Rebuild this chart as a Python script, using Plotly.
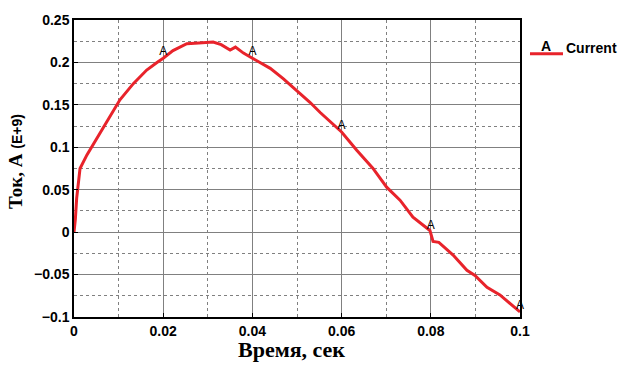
import plotly.graph_objects as go

time = [0, 0.0003, 0.0006, 0.001, 0.00135, 0.0029, 0.0058, 0.0081, 0.0103, 0.0133, 0.0163,
        0.0186, 0.02, 0.0222, 0.0253, 0.028, 0.0312, 0.033, 0.035, 0.0362, 0.038, 0.04, 0.044,
        0.0469, 0.0507, 0.0529, 0.0552, 0.06, 0.0634, 0.067, 0.0701, 0.0731, 0.076, 0.0798,
        0.0805, 0.0818, 0.085, 0.0881, 0.0899, 0.0926, 0.0955, 0.1]
current = [0, 0.015, 0.04, 0.062, 0.075, 0.091, 0.117, 0.136, 0.156, 0.175, 0.191,
           0.2, 0.205, 0.214, 0.222, 0.223, 0.224, 0.221, 0.2145, 0.218, 0.211, 0.205, 0.193,
           0.181, 0.164, 0.153, 0.141, 0.118, 0.0966, 0.0754, 0.053, 0.0377, 0.0177, 0.002,
           -0.011, -0.012, -0.027, -0.045, -0.051, -0.065, -0.074, -0.094]
mark_t = [0.02, 0.04, 0.06, 0.08, 0.1]
mark_y = [0.205, 0.205, 0.118, 0.0, -0.094]

red = "#e8232b"
fig = go.Figure()
fig.add_trace(go.Scatter(x=time, y=current, mode="lines", name="Current",
                         line=dict(color=red, width=3), showlegend=False))
fig.add_trace(go.Scatter(x=mark_t, y=mark_y, mode="text", text=["A"] * len(mark_t),
                         textposition="top center", showlegend=False, cliponaxis=False,
                         textfont=dict(family="Liberation Sans", size=12, color="black")))

axis_common = dict(showline=True, linecolor="black", linewidth=1.5, mirror=True,
                   showgrid=True, gridcolor="#808080", gridwidth=1, zeroline=False,
                   ticks="inside", ticklen=4, tickcolor="black", automargin=False,
                   tickfont=dict(family="Liberation Sans", size=14, color="black", weight="bold"))

fig.update_xaxes(range=[0, 0.1], dtick=0.02, tickformat="~g",
                 minor=dict(dtick=0.01, showgrid=True, gridcolor="#808080", griddash="dot", gridwidth=1),
                 **axis_common)
fig.update_yaxes(range=[-0.1, 0.25], dtick=0.05, tickformat="~g",
                 minor=dict(dtick=0.025, showgrid=True, gridcolor="#808080", griddash="dot", gridwidth=1),
                 **axis_common)

# axis titles
fig.add_annotation(x=0.487, y=-0.111, xref="paper", yref="paper", text="Время, сек",
                   showarrow=False, yanchor="middle",
                   font=dict(family="Liberation Serif", size=22, color="black", weight="bold"))
fig.add_annotation(x=-0.130, y=0.522, xref="paper", yref="paper", textangle=-90,
                   text="Ток, А <span style='font-family:Liberation Sans;font-size:14px'>(E+9)</span>",
                   showarrow=False, xanchor="center", yanchor="middle",
                   font=dict(family="Liberation Serif", size=19, color="black", weight="bold"))

# legend drawn manually
fig.add_shape(type="line", xref="paper", yref="paper", x0=1.0224, x1=1.0964, y0=0.886, y1=0.886,
              line=dict(color=red, width=3))
fig.add_annotation(x=1.058, y=0.912, xref="paper", yref="paper", text="A", showarrow=False,
                   xanchor="center", yanchor="middle",
                   font=dict(family="Liberation Sans", size=14, color="black", weight="bold"))
fig.add_annotation(x=1.0987, y=0.906, xref="paper", yref="paper", text="Current", showarrow=False,
                   xanchor="left", yanchor="middle",
                   font=dict(family="Liberation Sans", size=14, color="black", weight="bold"))

fig.update_layout(width=618, height=371, margin=dict(l=74, r=98, t=20, b=54),
                  paper_bgcolor="white", plot_bgcolor="white", showlegend=False)
fig.write_html("out.html", config={"displayModeBar": False},
               post_script="document.body.style.margin='0';")
